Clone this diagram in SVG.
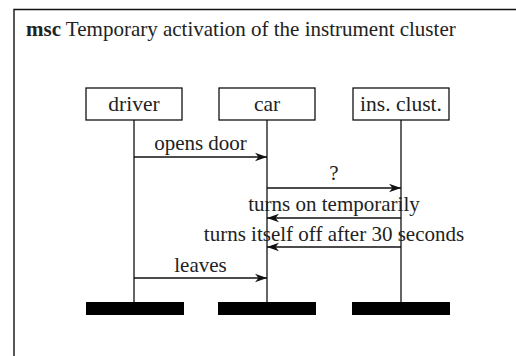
<svg xmlns="http://www.w3.org/2000/svg" width="516" height="356" viewBox="0 0 516 356">
  <style>
    text { fill: #222; font-size: 21px; }
    .head { font-size: 21.5px; }
    .head, .msg { text-anchor: middle; }
    .box { fill: #fff; stroke: #111; stroke-width: 1.3; }
    .life { stroke: #111; stroke-width: 1.3; }
    .end { fill: #000; }
    .arrow { stroke: #111; stroke-width: 1.3; fill: none; marker-end: url(#head); }
  </style>
  <defs>
    <marker id="head" markerWidth="14" markerHeight="10" refX="12" refY="5" orient="auto" markerUnits="userSpaceOnUse">
      <path d="M0,0.8 L12,5 L0,9.2 L3.5,5 Z" fill="#111"/>
    </marker>
  </defs>

  <g font-family="'Liberation Serif', 'Times New Roman', serif">
    <!-- frame (runs on past the page edge) -->
    <path d="M14,360 L14,9.5 L520,9.5" fill="none" stroke="#111" stroke-width="1.4"/>
    <text x="26" y="36"><tspan font-weight="bold">msc</tspan> Temporary activation of the instrument cluster</text>

    <g id="driver">
      <rect class="box" x="86" y="88" width="96" height="32"/>
      <text class="head" x="134" y="111">driver</text>
      <line class="life" x1="134" y1="120" x2="134" y2="302"/>
      <rect class="end" x="86" y="302" width="98" height="13"/>
    </g>

    <g id="car">
      <rect class="box" x="219" y="88" width="96" height="32"/>
      <text class="head" x="267" y="111">car</text>
      <line class="life" x1="267" y1="120" x2="267" y2="302"/>
      <rect class="end" x="218" y="302" width="98" height="13"/>
    </g>

    <g id="insclust">
      <rect class="box" x="353" y="88" width="96" height="32"/>
      <text class="head" x="401" y="111">ins. clust.</text>
      <line class="life" x1="401" y1="120" x2="401" y2="302"/>
      <rect class="end" x="352" y="302" width="98" height="13"/>
    </g>

    <g id="messages">
      <line class="arrow" x1="134" y1="157" x2="267" y2="157"/>
      <text class="msg" x="200.5" y="150">opens door</text>

      <line class="arrow" x1="267" y1="188" x2="401" y2="188"/>
      <text class="msg" x="334" y="180">?</text>

      <line class="arrow" x1="401" y1="218" x2="267" y2="218"/>
      <text class="msg" x="334" y="211">turns on temporarily</text>

      <line class="arrow" x1="401" y1="247" x2="267" y2="247"/>
      <text class="msg" x="334" y="241">turns itself off after 30 seconds</text>

      <line class="arrow" x1="134" y1="278" x2="267" y2="278"/>
      <text class="msg" x="200.5" y="272">leaves</text>
    </g>
  </g>
</svg>
